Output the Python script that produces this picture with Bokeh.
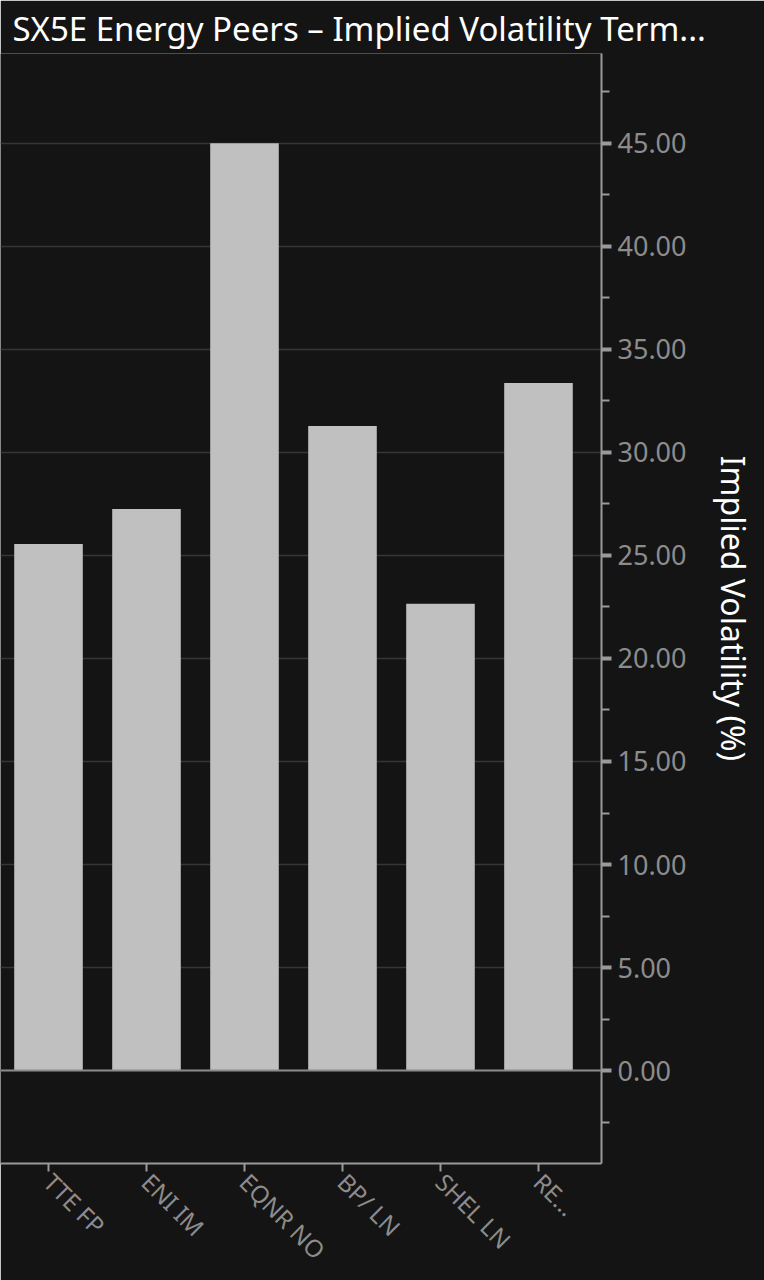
from bokeh.plotting import figure
from bokeh.models import Range1d, FixedTicker, PrintfTickFormatter, Span
from bokeh.embed import file_html
from bokeh.resources import INLINE
import numpy as np

title_text = "SX5E Energy Peers \u2013 Implied Volatility Term..."
tickers = ["TTE FP", "ENI IM", "EQNR NO", "BP/ LN", "SHEL LN", "RE..."]
implied_vol = [25.55, 27.25, 45.0, 31.28, 22.65, 33.37]
y_major = [0, 5, 10, 15, 20, 25, 30, 35, 40, 45]
y_minor = [-2.5, 2.5, 7.5, 12.5, 17.5, 22.5, 27.5, 32.5, 37.5, 42.5, 47.5]

BG = "#141414"
FONT = "Noto Sans"

xpos = np.arange(len(tickers)) + 0.5

p = figure(width=764, height=1280, output_backend="svg", toolbar_location=None,
           x_range=Range1d(0.0102, 6.143), y_range=Range1d(-4.51, 49.36),
           y_axis_location="right", title=title_text,
           min_border_left=0, min_border_top=0, min_border_right=163, min_border_bottom=117)

p.background_fill_color = BG
p.border_fill_color = BG
p.outline_line_color = None

p.title.text_color = "#ffffff"
p.title.text_font = FONT
p.title.text_font_size = "33px"
p.title.text_font_style = "normal"
p.title.offset = 12
p.title.standoff = 6

p.vbar(x=xpos, top=implied_vol, width=0.7, bottom=0, fill_color="#c0c0c0", line_color=None)

p.add_layout(Span(location=0, dimension="width", line_color="#8a8a8a", line_width=2))

p.xgrid.visible = False
p.ygrid.ticker = FixedTicker(ticks=y_major)
p.ygrid.grid_line_color = "#363636"
p.ygrid.grid_line_width = 1.5

xa = p.xaxis[0]
xa.ticker = FixedTicker(ticks=list(xpos))
xa.major_label_overrides = {float(x): t for x, t in zip(xpos, tickers)}
xa.major_label_orientation = -0.785
xa.axis_line_color = "#9a9a9a"
xa.axis_line_width = 2
xa.major_tick_line_color = "#9a9a9a"
xa.major_tick_line_width = 2
xa.major_tick_out = 8
xa.major_tick_in = 0
xa.minor_tick_line_color = None
xa.major_label_text_color = "#8c8c8c"
xa.major_label_text_font = FONT
xa.major_label_text_font_size = "24px"
xa.major_label_standoff = 6

ya = p.yaxis[0]
ya.ticker = FixedTicker(ticks=y_major, minor_ticks=y_minor)
ya.formatter = PrintfTickFormatter(format="%.2f")
ya.axis_line_color = "#9a9a9a"
ya.axis_line_width = 2
ya.major_tick_line_color = "#9a9a9a"
ya.major_tick_line_width = 4
ya.major_tick_out = 10
ya.major_tick_in = 0
ya.minor_tick_line_color = "#9a9a9a"
ya.minor_tick_line_width = 2
ya.minor_tick_out = 8
ya.minor_tick_in = 0
ya.major_label_text_color = "#8c8c8c"
ya.major_label_text_font = FONT
ya.major_label_text_font_size = "27px"
ya.major_label_standoff = 6
ya.axis_label = "Implied Volatility (%)"
ya.axis_label_text_color = "#ffffff"
ya.axis_label_text_font = FONT
ya.axis_label_text_font_size = "32px"
ya.axis_label_text_font_style = "normal"
ya.axis_label_standoff = 22

open("out.html", "w").write(file_html(p, INLINE))
